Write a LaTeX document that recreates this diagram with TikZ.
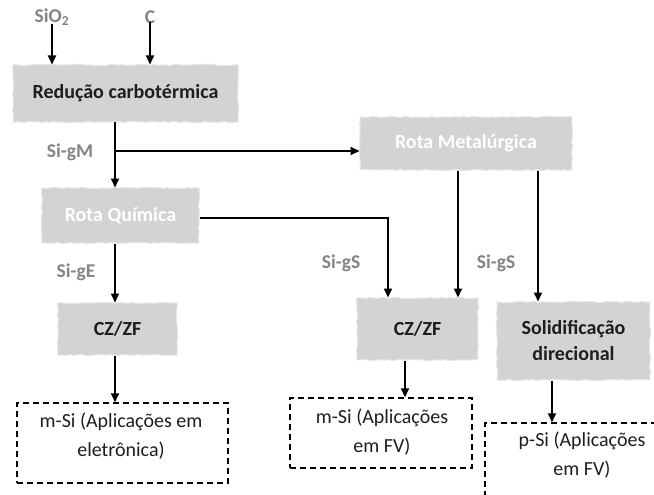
\documentclass[tikz,border=0pt]{standalone}
\usepackage{fontspec}
\setmainfont{Carlito}
\usetikzlibrary{arrows.meta,decorations.pathmorphing}
\definecolor{boxgray}{HTML}{D3D3D3}
\definecolor{labgray}{HTML}{858585}
\definecolor{txtdark}{HTML}{1E1E1E}
\begin{document}
\begin{tikzpicture}[x=1pt,y=-1pt,
  graybox/.style={fill=boxgray, draw=boxgray!55!white, line width=1pt, decorate,
    decoration={random steps,segment length=4pt,amplitude=0.7pt},
    inner sep=0pt, align=center, text=txtdark, font=\fontsize{20}{26}\selectfont\bfseries},
  routebox/.style={graybox, text=white},
  dashbox/.style={draw=black, line width=1.5pt, dash pattern=on 6pt off 4pt, inner sep=0pt},
  boxtext/.style={align=center, text=txtdark, inner sep=0pt, font=\fontsize{20}{29}\selectfont},
  lab/.style={text=labgray, font=\fontsize{19.5}{24}\selectfont\bfseries, inner sep=1pt},
  conn/.style={line width=2pt, -{Triangle[length=9pt,width=8pt]}}]
\useasboundingbox (0,0) rectangle (654,495);
\clip (0,0) rectangle (654,495);
\fill[white] (0,0) rectangle (654,495);

% nodes
\node[lab] (sio2) at (52,17) {SiO\textsubscript{2}};
\node[lab] (c) at (150,17) {C};
\node[graybox, minimum width=225pt, minimum height=57pt] (red) at (125.5,93.5) {Redução carbotérmica};
\node[routebox, minimum width=157pt, minimum height=55pt] (rq) at (120.5,215.5) {Rota Química};
\node[routebox, minimum width=212pt, minimum height=53pt] (rm) at (466,143.5) {Rota Metalúrgica};
\node[graybox, minimum width=119pt, minimum height=52pt] (cz1) at (117.5,329) {CZ/ZF};
\node[graybox, minimum width=121pt, minimum height=62pt] (cz2) at (417.5,329) {CZ/ZF};
\node[graybox, minimum width=153pt, minimum height=78pt] (sol) at (573.5,341) {Solidificação\\direcional};
\node[dashbox, minimum width=211pt, minimum height=80pt] (ms1) at (122.5,443) {};
\node[boxtext] (ms1t) at (121,436) {m-Si (Aplicações em\\eletrônica)};
\node[dashbox, minimum width=182pt, minimum height=70pt] (ms2) at (381,433) {};
\node[boxtext] (ms2t) at (382,432) {m-Si (Aplicações\\em FV)};
\node[dashbox, minimum width=180pt, minimum height=82pt] (ps) at (575,464) {};
\node[boxtext] (pst) at (582,455) {p-Si (Aplicações\\em FV)};

% labels
\node[lab] (lgm) at (70,152) {Si-gM};
\node[lab] (lge) at (76,272) {Si-gE};
\node[lab] (lgs1) at (341,263) {Si-gS};
\node[lab] (lgs2) at (496,263) {Si-gS};

% connectors
\coordinate (j) at (115,151);
\draw[conn] ([yshift=3pt]sio2.south) -- (sio2.south |- red.north);
\draw[conn] ([yshift=3pt]c.south) -- (c.south |- red.north);
\draw[conn] (red.south -| j) -- (rq.north -| j);
\draw[conn] (j) -- (j -| rm.west);
\draw[conn] ([yshift=-2.5pt]rq.east) -| ([xshift=-29.5pt]cz2.north);
\draw[conn] ([xshift=-8pt]rm.south) -- ([xshift=-8pt]rm.south |- cz2.north);
\draw[conn] ([xshift=72pt]rm.south) -- ([xshift=72pt]rm.south |- sol.north);
\draw[conn] (rq.south -| j) -- (cz1.north -| j);
\draw[conn] (cz1.south -| j) -- (ms1.north -| j);
\draw[conn] ([xshift=-12.5pt]cz2.south) -- ([xshift=-12.5pt]cz2.south |- ms2.north);
\draw[conn] ([xshift=-21.5pt]sol.south) -- ([xshift=-21.5pt]sol.south |- ps.north);
\end{tikzpicture}
\end{document}
